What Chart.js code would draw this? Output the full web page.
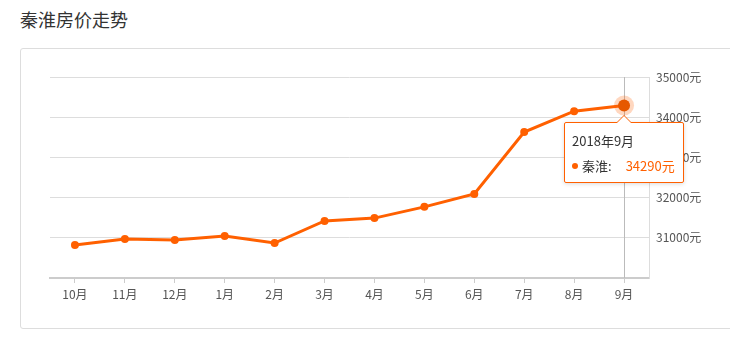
<!DOCTYPE html>
<html>
<head>
<meta charset="utf-8">
<script src="https://cdn.jsdelivr.net/npm/chart.js@4/dist/chart.umd.min.js"></script>
<style>
  body { margin: 0; background: #fff; font-family: "Noto Sans CJK SC", sans-serif; }
  #wrap { position: relative; width: 730px; height: 338px; overflow: hidden; }
  h2 { position: absolute; left: 20px; top: 6px; margin: 0; font-size: 18px; font-weight: normal; color: #333; }
  .box { position: absolute; left: 20px; top: 48px; width: 730px; height: 279px; border: 1px solid #ddd; border-radius: 3px; }
  canvas { position: absolute; left: 0; top: 0; }
  #tip { position: absolute; background: #fff; border: 1px solid #ff6000; border-radius: 2px;
         box-shadow: 0 1px 4px rgba(0,0,0,0.15); padding: 8px 8px 7px 7px; font-size: 13px; color: #333;
         white-space: nowrap; pointer-events: none; opacity: 0; }
  #tip:before { content: ""; position: absolute; left: 50%; top: -8px; margin-left: -8px;
         border: 8px solid transparent; border-top: 0; border-bottom-color: #ff6000; }
  #tip:after { content: ""; position: absolute; left: 50%; top: -7px; margin-left: -7px;
         border: 7px solid transparent; border-top: 0; border-bottom-color: #fff; }
  #tip .t { margin-bottom: 6px; }
  #tip .dot { display: inline-block; width: 6px; height: 6px; border-radius: 50%; background: #ff6000; margin-right: 4px; vertical-align: 2px; }
  #tip .v { color: #ff6000; margin-left: 14px; }
</style>
</head>
<body>
<div id="wrap">
  <h2>秦淮房价走势</h2>
  <div class="box"></div>
  <canvas id="lineChart" width="730" height="338"></canvas>
  <div id="tip"></div>
</div>
<script>
const months = ["10月", "11月", "12月", "1月", "2月", "3月", "4月", "5月", "6月", "7月", "8月", "9月"];
const fullMonths = ["2017年10月", "2017年11月", "2017年12月", "2018年1月", "2018年2月", "2018年3月",
  "2018年4月", "2018年5月", "2018年6月", "2018年7月", "2018年8月", "2018年9月"];
const prices = [30820, 30970, 30945, 31045, 30870, 31420, 31490, 31770, 32090, 33630, 34150, 34290];
const seriesName = "秦淮";
const lineColor = "#ff6000";
const activeIndex = 11;

const tipEl = document.getElementById("tip");

function externalTip(context) {
  const tooltip = context.tooltip;
  if (tooltip.opacity === 0) { tipEl.style.opacity = 0; return; }
  const i = tooltip.dataPoints[0].dataIndex;
  tipEl.innerHTML =
    '<div class="t">' + fullMonths[i] + '</div>' +
    '<div><span class="dot"></span>' + seriesName + ':<span class="v">' + prices[i] + '元</span></div>';
  const w = tipEl.offsetWidth;
  tipEl.style.left = (tooltip.caretX - w / 2) + "px";
  tipEl.style.top = (tooltip.caretY + 16) + "px";
  tipEl.style.opacity = 1;
}

// vertical pointer line + halo on the active point
const hoverDecor = {
  id: "hoverDecor",
  beforeDatasetsDraw(chart) {
    const active = chart.getActiveElements();
    if (!active.length) return;
    const el = active[0].element;
    const ctx = chart.ctx;
    const area = chart.chartArea;
    ctx.save();
    ctx.strokeStyle = "#bbb";
    ctx.lineWidth = 1;
    ctx.beginPath();
    ctx.moveTo(Math.round(el.x) + 0.5, area.top);
    ctx.lineTo(Math.round(el.x) + 0.5, area.bottom);
    ctx.stroke();
    ctx.fillStyle = "rgba(255, 96, 0, 0.25)";
    ctx.beginPath();
    ctx.arc(el.x, el.y, 10, 0, Math.PI * 2);
    ctx.fill();
    ctx.restore();
  },
};

const chart = new Chart(document.getElementById("lineChart"), {
  type: "line",
  data: {
    labels: months,
    datasets: [
      {
        label: seriesName,
        data: prices,
        borderColor: lineColor,
        backgroundColor: lineColor,
        borderWidth: 3,
        pointRadius: 4,
        pointHoverRadius: 6,
        pointBorderWidth: 0,
        pointHoverBorderWidth: 0,
        tension: 0,
      },
    ],
  },
  options: {
    responsive: false,
    animation: false,
    events: [],
    layout: { padding: { left: 50, top: 77, right: 0, bottom: 0 } },
    plugins: {
      legend: { display: false },
      tooltip: { enabled: false, external: externalTip },
    },
    scales: {
      x: {
        offset: true,
        grid: { drawOnChartArea: false, drawTicks: true, tickLength: 5, color: "#ccc", offset: false },
        border: { color: "#ccc", width: 2 },
        ticks: { color: "#555", font: { family: "Noto Sans CJK SC", size: 12 }, padding: 4, maxRotation: 0 },
        afterFit(scale) { scale.height = 60; },
      },
      y: {
        position: "right",
        min: 30000,
        max: 35000,
        grid: { color: "#ddd", drawTicks: false },
        border: { color: "#ddd", display: true },
        ticks: {
          stepSize: 1000,
          color: "#555",
          padding: 7,
          font: { family: "Noto Sans CJK SC", size: 12 },
          callback: (v) => (v === 30000 ? "" : v + "元"),
        },
        afterFit(scale) { scale.width = 81; },
      },
    },
  },
  plugins: [hoverDecor],
});

const act = [{ datasetIndex: 0, index: activeIndex }];
chart.setActiveElements(act);
chart.tooltip.setActiveElements(act, { x: 0, y: 0 });
chart.update();
</script>
</body>
</html>
